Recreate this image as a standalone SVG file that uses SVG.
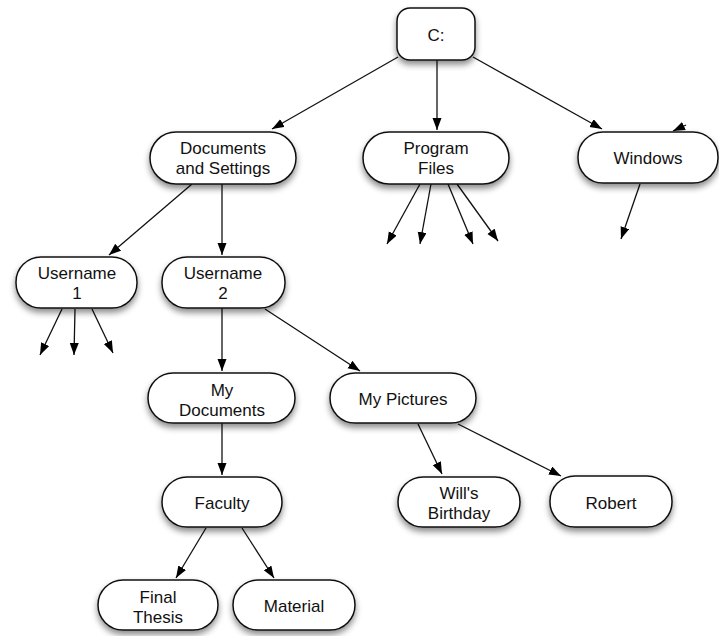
<svg xmlns="http://www.w3.org/2000/svg" width="719" height="636" viewBox="0 0 719 636">
  <defs>
    <filter id="shadow" x="-20%" y="-30%" width="140%" height="180%">
      <feDropShadow dx="0" dy="4" stdDeviation="3" flood-color="#000" flood-opacity="0.45"/>
    </filter>
    <marker id="arrow" markerUnits="userSpaceOnUse" markerWidth="13" markerHeight="10" refX="12" refY="4.5" orient="auto">
      <path d="M0,0 L12,4.5 L0,9 z" fill="#000"/>
    </marker>
    <style>
      .node rect { fill: #fff; stroke: #111; stroke-width: 1.5; filter: url(#shadow); }
      .node text { font-family: "Liberation Sans", Arial, sans-serif; font-size: 17px; fill: #111; text-anchor: middle; }
      #connectors line { stroke: #111; stroke-width: 1.3; marker-end: url(#arrow); }
    </style>
  </defs>
  <rect width="719" height="636" fill="#fff"/>

  <g id="connectors">
    <!-- from the root -->
    <line x1="398" y1="57" x2="272" y2="129"/>
    <line x1="437" y1="60" x2="437" y2="130"/>
    <line x1="473" y1="57" x2="602" y2="129"/>
    <!-- short stub at Windows -->
    <line x1="686" y1="125" x2="673" y2="131"/>
    <!-- Windows child -->
    <line x1="640" y1="184" x2="621" y2="239"/>
    <!-- Program Files children -->
    <line x1="420" y1="184" x2="387" y2="244"/>
    <line x1="431" y1="184" x2="420" y2="244"/>
    <line x1="448" y1="184" x2="473" y2="244"/>
    <line x1="457" y1="184" x2="498" y2="241"/>
    <!-- Documents and Settings children -->
    <line x1="192" y1="184" x2="109" y2="255"/>
    <line x1="222" y1="184" x2="222" y2="255"/>
    <!-- Username 1 children -->
    <line x1="62" y1="309" x2="40" y2="355"/>
    <line x1="75" y1="309" x2="74" y2="355"/>
    <line x1="92" y1="309" x2="113" y2="353"/>
    <!-- Username 2 children -->
    <line x1="222" y1="308" x2="222" y2="371"/>
    <line x1="265" y1="309" x2="360" y2="371"/>
    <!-- My Documents -> Faculty -->
    <line x1="222" y1="423" x2="222" y2="475"/>
    <!-- My Pictures children -->
    <line x1="418" y1="424" x2="442" y2="474"/>
    <line x1="458" y1="424" x2="561" y2="476"/>
    <!-- Faculty children -->
    <line x1="206" y1="528" x2="176" y2="578"/>
    <line x1="242" y1="528" x2="274" y2="578"/>
  </g>

  <g id="node-c" class="node">
    <rect x="397" y="8" width="78" height="52" rx="13"/>
    <text x="436" y="40.5">C:</text>
  </g>
  <g id="node-documents-and-settings" class="node">
    <rect x="150" y="132" width="146" height="52" rx="26"/>
    <text x="223" y="154">Documents</text>
    <text x="223" y="174">and Settings</text>
  </g>
  <g id="node-program-files" class="node">
    <rect x="363" y="132" width="146" height="52" rx="26"/>
    <text x="436" y="154">Program</text>
    <text x="436" y="174">Files</text>
  </g>
  <g id="node-windows" class="node">
    <rect x="578" y="132" width="140" height="51" rx="25"/>
    <text x="648" y="163.5">Windows</text>
  </g>
  <g id="node-username-1" class="node">
    <rect x="16" y="257" width="121" height="51" rx="25"/>
    <text x="77" y="279">Username</text>
    <text x="77" y="299">1</text>
  </g>
  <g id="node-username-2" class="node">
    <rect x="162" y="257" width="123" height="51" rx="25"/>
    <text x="223" y="279">Username</text>
    <text x="223" y="299">2</text>
  </g>
  <g id="node-my-documents" class="node">
    <rect x="148" y="373" width="147" height="50" rx="25"/>
    <text x="222" y="396">My</text>
    <text x="222" y="416">Documents</text>
  </g>
  <g id="node-my-pictures" class="node">
    <rect x="330" y="373" width="146" height="50" rx="25"/>
    <text x="403" y="404.5">My Pictures</text>
  </g>
  <g id="node-faculty" class="node">
    <rect x="162" y="477" width="120" height="50" rx="25"/>
    <text x="222" y="508.5">Faculty</text>
  </g>
  <g id="node-wills-birthday" class="node">
    <rect x="398" y="477" width="122" height="50" rx="25"/>
    <text x="459" y="499">Will's</text>
    <text x="459" y="519">Birthday</text>
  </g>
  <g id="node-robert" class="node">
    <rect x="550" y="476" width="122" height="51" rx="25"/>
    <text x="611" y="508.5">Robert</text>
  </g>
  <g id="node-final-thesis" class="node">
    <rect x="98" y="580" width="120" height="50" rx="25"/>
    <text x="158" y="602.5">Final</text>
    <text x="158" y="622.5">Thesis</text>
  </g>
  <g id="node-material" class="node">
    <rect x="233" y="580" width="122" height="50" rx="25"/>
    <text x="294" y="611.5">Material</text>
  </g>
</svg>
